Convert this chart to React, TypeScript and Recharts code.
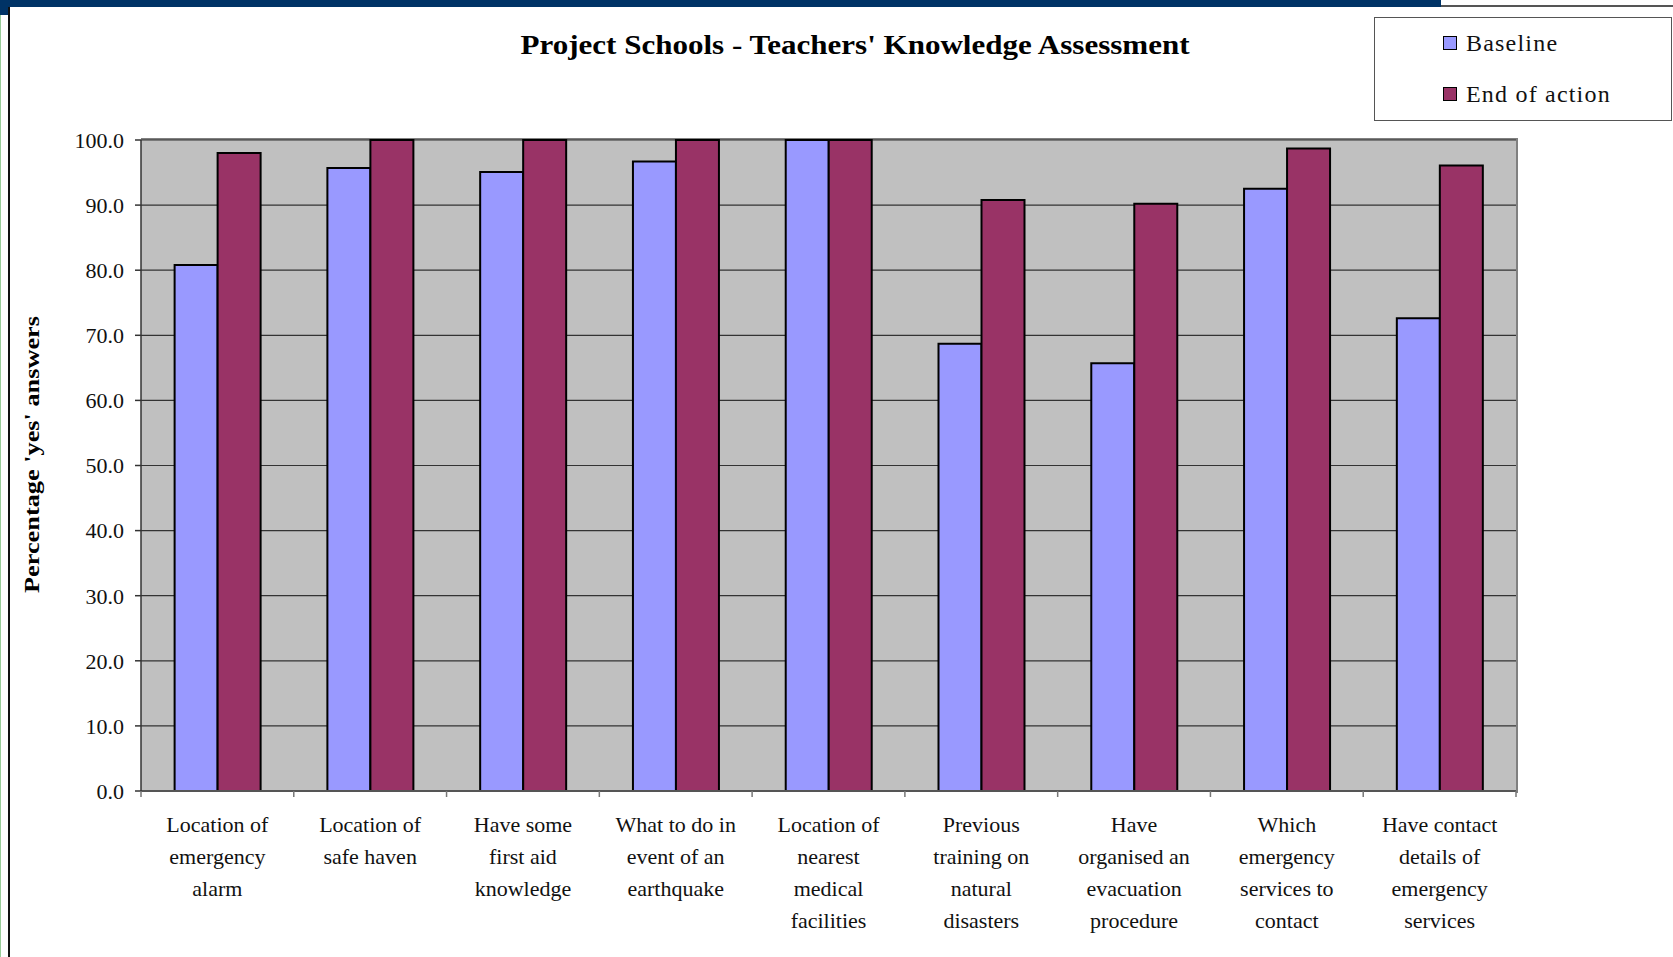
import { BarChart, Bar, XAxis, YAxis, CartesianGrid, Legend } from "recharts";

const CATEGORIES = [
  "Location of\nemergency\nalarm",
  "Location of\nsafe haven",
  "Have some\nfirst aid\nknowledge",
  "What to do in\nevent of an\nearthquake",
  "Location of\nnearest\nmedical\nfacilities",
  "Previous\ntraining on\nnatural\ndisasters",
  "Have\norganised an\nevacuation\nprocedure",
  "Which\nemergency\nservices to\ncontact",
  "Have contact\ndetails of\nemergency\nservices",
];
const BASELINE = [80.8, 95.7, 95.1, 96.7, 100.0, 68.7, 65.7, 92.5, 72.6];
const END_OF_ACTION = [98.0, 100.0, 100.0, 100.0, 100.0, 90.8, 90.2, 98.7, 96.1];
const Y_TICKS = [0, 10, 20, 30, 40, 50, 60, 70, 80, 90, 100];

const TITLE = "Project Schools  - Teachers' Knowledge Assessment";
const Y_LABEL = "Percentage 'yes' answers";

const W = 1673;
const H = 957;
const PLOT_LEFT = 141;
const PLOT_TOP = 140;
const PLOT_RIGHT = 1516;
const PLOT_BOTTOM = 791;
const BAND = (PLOT_RIGHT - PLOT_LEFT) / CATEGORIES.length;

const SERIF = "'Liberation Serif', 'DejaVu Serif', serif";
const BLUE = "#9999FF";
const PLUM = "#993366";

const data = CATEGORIES.map((name, i) => ({
  name,
  baseline: BASELINE[i],
  end: END_OF_ACTION[i],
}));

// excel-style category axis: ticks sit on the boundaries, labels wrap
const CategoryTick = (props: any) => {
  const { x, y, payload, index } = props;
  const lines = String(payload.value).split("\n");
  const left = x - BAND / 2;
  const isLast = index === CATEGORIES.length - 1;
  return (
    <g>
      <line x1={left} x2={left} y1={y} y2={y + 6} stroke="#777" strokeWidth={1.5} />
      {isLast && (
        <line x1={left + BAND} x2={left + BAND} y1={y} y2={y + 6} stroke="#777" strokeWidth={1.5} />
      )}
      <text
        x={x}
        y={y + 41}
        textAnchor="middle"
        fill="#111"
        style={{ fontFamily: SERIF, fontSize: 22 }}
      >
        {lines.map((l, i) => (
          <tspan key={i} x={x} dy={i === 0 ? 0 : 32}>
            {l}
          </tspan>
        ))}
      </text>
    </g>
  );
};

const LegendBox = (props: any) => {
  const items = (props.payload || []) as any[];
  return (
    <div
      style={{
        width: 298,
        height: 104,
        border: "1px solid #555",
        boxSizing: "border-box",
        background: "#fff",
        position: "relative",
        fontFamily: SERIF,
        fontSize: 24,
        color: "#111",
      }}
    >
      {items.map((it, i) => (
        <div
          key={it.value}
          style={{
            position: "absolute",
            left: 68,
            top: 10 + i * 51,
            height: 30,
            display: "flex",
            alignItems: "center",
            whiteSpace: "nowrap",
          }}
        >
          <span
            style={{
              display: "inline-block",
              width: 12,
              height: 12,
              background: it.color,
              border: "1.5px solid #000",
              marginRight: 9,
            }}
          />
          <span style={{ letterSpacing: 1.2 }}>{it.value}</span>
        </div>
      ))}
    </div>
  );
};

export default function App() {
  return (
    <div style={{ position: "absolute", left: 0, top: 0, width: W, height: H, background: "#fff", overflow: "hidden" }}>
      {/* slide frame bits */}
      <div style={{ position: "absolute", left: 0, top: 0, width: 1441, height: 7, background: "#003366" }} />
      <div style={{ position: "absolute", left: 0, top: 0, width: 8, height: 15, background: "#003366" }} />
      <div style={{ position: "absolute", left: 1441, top: 5, width: W - 1441, height: 2, background: "#555" }} />
      <div style={{ position: "absolute", left: 0, top: 15, width: 1, height: H - 15, background: "#99cc99" }} />
      <div style={{ position: "absolute", left: 8, top: 7, width: 2, height: H - 7, background: "#111" }} />
      {/* plot frame (top/right edges) */}
      <div
        style={{
          position: "absolute",
          left: PLOT_LEFT,
          top: PLOT_TOP - 2,
          width: PLOT_RIGHT - PLOT_LEFT,
          height: PLOT_BOTTOM - PLOT_TOP + 2,
          borderTop: "2px solid #808080",
          borderRight: "2px solid #808080",
        }}
      />
      <svg style={{ position: "absolute", left: 0, top: 0 }} width={W} height={110}>
        <text
          x={855}
          y={54}
          textAnchor="middle"
          textLength={669}
          lengthAdjust="spacingAndGlyphs"
          style={{ fontFamily: SERIF, fontSize: 27, fontWeight: 700 }}
          fill="#000"
        >
          {TITLE}
        </text>
      </svg>
      <div style={{ position: "absolute", left: 0, top: 0 }}>
        <BarChart
          width={W}
          height={H}
          data={data}
          margin={{ top: PLOT_TOP, right: W - PLOT_RIGHT, bottom: 0, left: 0 }}
          barCategoryGap="22%"
          barGap={0}
        >
          <CartesianGrid horizontal vertical={false} fill="#C0C0C0" stroke="#333" strokeWidth={1.2} fillOpacity={1} />
          <XAxis
            dataKey="name"
            height={H - PLOT_BOTTOM}
            interval={0}
            tickLine={false}
            tickSize={0}
            tickMargin={0}
            axisLine={{ stroke: "#555", strokeWidth: 2 }}
            tick={<CategoryTick />}
          />
          <YAxis
            width={PLOT_LEFT}
            domain={[0, 100]}
            ticks={Y_TICKS}
            tickFormatter={(v: number) => v.toFixed(1)}
            tickSize={6}
            tickMargin={11}
            axisLine={{ stroke: "#333", strokeWidth: 1.5 }}
            tickLine={{ stroke: "#333", strokeWidth: 1.5 }}
            tick={{ fill: "#111", fontSize: 22, fontFamily: SERIF }}
            label={{
              content: (p: any) => {
                const vb = p.viewBox || { x: 0, y: PLOT_TOP, height: PLOT_BOTTOM - PLOT_TOP };
                const cx = 31;
                const cy = vb.y + vb.height / 2 - 11;
                return (
                  <text
                    x={cx}
                    y={cy}
                    transform={`rotate(-90 ${cx} ${cy})`}
                    textAnchor="middle"
                    dominantBaseline="central"
                    textLength={277}
                    lengthAdjust="spacingAndGlyphs"
                    fill="#000"
                    style={{ fontFamily: SERIF, fontSize: 22, fontWeight: 700 }}
                  >
                    {Y_LABEL}
                  </text>
                );
              },
            }}
          />
          <Legend
            layout="vertical"
            align="center"
            verticalAlign="middle"
            wrapperStyle={{ left: 1374, top: 17, width: 298, height: 104 }}
            content={<LegendBox />}
          />
          <Bar dataKey="baseline" name="Baseline" fill={BLUE} stroke="#000" strokeWidth={2} isAnimationActive={false} />
          <Bar dataKey="end" name="End of action" fill={PLUM} stroke="#000" strokeWidth={2} isAnimationActive={false} />
        </BarChart>
      </div>
    </div>
  );
}
